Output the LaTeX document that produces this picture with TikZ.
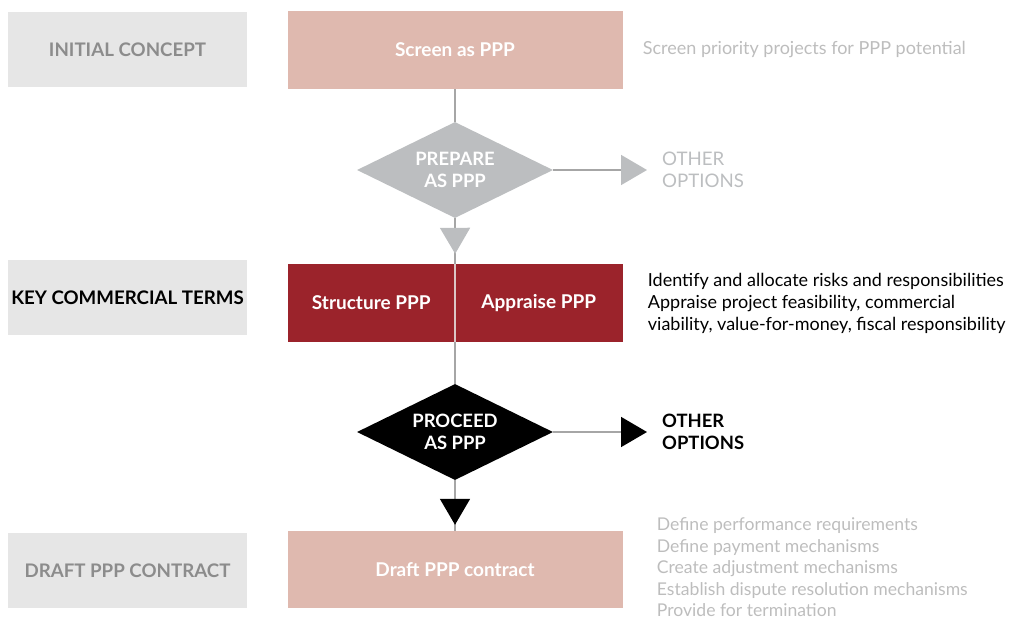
\documentclass[tikz,border=0pt]{standalone}
\usepackage{fontspec}
\setmainfont{Lato}
\usetikzlibrary{shapes.geometric,arrows.meta,positioning}
\definecolor{stagegray}{HTML}{E6E6E6}
\definecolor{labelgray}{HTML}{8C8C8C}
\definecolor{notegray}{HTML}{BDBDBD}
\definecolor{pinkbox}{HTML}{DFB9AF}
\definecolor{redbox}{HTML}{9B232B}
\definecolor{diagray}{HTML}{BCBEC0}
\definecolor{linegray}{HTML}{A6A6A6}
\definecolor{splitline}{HTML}{DCC6C6}

\begin{document}
\begin{tikzpicture}[x=1pt, y=-1pt, inner sep=0pt,
    stage/.style = {fill=stagegray, minimum width=239pt, minimum height=75pt, font=\fontsize{18.7}{22}\selectfont\bfseries},
    phase/.style = {minimum height=78pt, text=white, font=\fontsize{19}{22}\selectfont\bfseries},
    decision/.style = {diamond, aspect=2, minimum width=196pt, minimum height=96pt, align=center, text=white, font=\fontsize{18.4}{22}\selectfont\bfseries},
    note/.style = {align=left, font=\fontsize{18}{22}\selectfont},
    option/.style = {align=left, anchor=west, font=\fontsize{18.7}{22}\selectfont},
    link/.style = {draw=linegray, line width=1.6pt},
    bigtip/.style = {-{Triangle[width=30pt,length=26pt,color=#1]}}]
    \useasboundingbox (0,0) rectangle (1011,621);

    % stage labels on the left
    \node[stage, text=labelgray] (initial) at (127.5,49.5) {INITIAL CONCEPT};
    \node[stage, text=black] (key) at (127.5,297.5) {KEY COMMERCIAL TERMS};
    \node[stage, text=labelgray] (draftlbl) at (127.5,570.5) {DRAFT PPP CONTRACT};

    % main column
    \node[phase, fill=pinkbox, minimum width=335pt] (screen) at (455,50) {Screen as PPP};
    \node[decision, fill=diagray] (prepare) at (455,170) {PREPARE\\AS PPP};
    \node[phase, fill=redbox, minimum width=167.5pt] (struct) at (371.25,303) {Structure PPP};
    \node[phase, fill=redbox, minimum width=167.5pt] (apprs) at (538.75,303) {Appraise PPP};
    \node[decision, fill=black] (proceed) at (455,432) {PROCEED\\AS PPP};
    \node[phase, fill=pinkbox, minimum width=335pt, minimum height=77pt] (draft) at (455,569.5) {Draft PPP contract};

    % side notes
    \node[note, text=notegray, right=20pt of screen] (screennote) {Screen priority projects for PPP potential};
    \node[note, text=black, right=25pt of apprs] (keynote) {Identify and allocate risks and responsibilities\\Appraise project feasibility, commercial\\viability, value-for-money, fiscal responsibility};
    \node[note, text=notegray, font=\fontsize{17.6}{21.5}\selectfont, right=34pt of draft, yshift=2pt] (draftnote) {Define performance requirements\\Define payment mechanisms\\Create adjustment mechanisms\\Establish dispute resolution mechanisms\\Provide for termination};

    % other options
    \coordinate (prepout) at (647,170);
    \coordinate (procout) at (647,432);
    \node[option, text=diagray, right=15pt of prepout] (prepother) {OTHER\\OPTIONS};
    \node[option, text=black, font=\fontsize{18.4}{22}\selectfont\bfseries, right=15pt of procout] (procother) {OTHER\\OPTIONS};

    % connectors
    \draw[link] (screen) -- (prepare);
    \draw[link] (prepare.south) -- (proceed.north);
    \draw[link] (proceed.south) -- (draft.north);
    \draw[splitline, line width=2.4pt] (struct.north east) -- (struct.south east);
    \draw[link, bigtip=diagray, shorten >=10pt] (prepare.south) -- (struct.north east);
    \draw[link, bigtip=black, shorten >=6pt] (proceed.south) -- (draft.north);
    \draw[link, bigtip=diagray] (prepare.east) -- (prepout);
    \draw[link, bigtip=black] (proceed.east) -- (procout);
\end{tikzpicture}
\end{document}
